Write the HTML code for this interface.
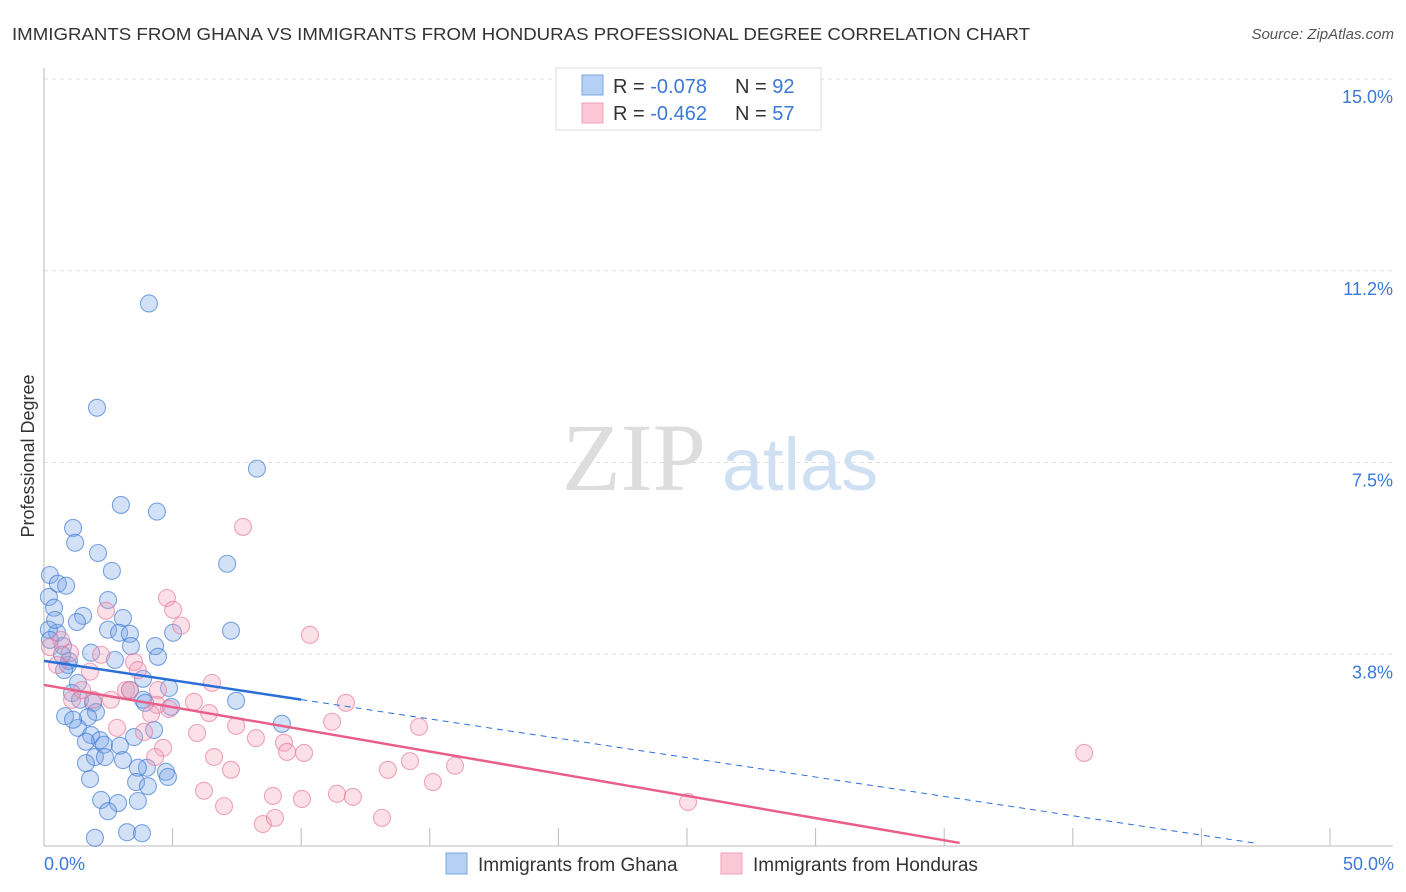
<!DOCTYPE html>
<html><head><meta charset="utf-8"><style>
html,body{margin:0;padding:0;background:#fff;}
svg{display:block;font-family:"Liberation Sans",sans-serif;}
</style></head><body>
<svg id="chart" width="1406" height="892" viewBox="0 0 1406 892">
<text x="12" y="40" font-size="17.5" fill="#333" textLength="1018" lengthAdjust="spacingAndGlyphs">IMMIGRANTS FROM GHANA VS IMMIGRANTS FROM HONDURAS PROFESSIONAL DEGREE CORRELATION CHART</text>
<text x="1394" y="39" font-size="15" fill="#555" font-style="italic" text-anchor="end">Source: ZipAtlas.com</text>
<g id="grid"></g>
<g>
<text x="634" y="490" font-size="96" fill="#ddd" text-anchor="middle" font-family="Liberation Serif,serif">ZIP</text>
<text x="800" y="490" font-size="74" fill="#cfe0f3" text-anchor="middle">atlas</text>
</g>
<g id="axes"></g>
<g id="marks"></g>
<text x="34" y="456" font-size="18" fill="#333" text-anchor="middle" transform="rotate(-90 34 456)">Professional Degree</text>
<g>
<rect x="556" y="68" width="265" height="62" fill="#fff" stroke="#ddd"/>
<rect x="582" y="75" width="21" height="20" fill="#b5d0f5" stroke="#7aa7e0"/>
<rect x="582" y="103" width="21" height="20" fill="#fcc8d7" stroke="#f0a0b8"/>
<text x="613" y="93" font-size="20" fill="#333">R = <tspan fill="#3b78d8">-0.078</tspan></text>
<text x="735" y="93" font-size="20" fill="#333">N = <tspan fill="#3b78d8">92</tspan></text>
<text x="613" y="120" font-size="20" fill="#333">R = <tspan fill="#3b78d8">-0.462</tspan></text>
<text x="735" y="120" font-size="20" fill="#333">N = <tspan fill="#3b78d8">57</tspan></text>
</g>
<g>
<rect x="446" y="853" width="21" height="21" fill="#b5d0f5" stroke="#7aa7e0"/>
<text x="478" y="871" font-size="19" fill="#333">Immigrants from Ghana</text>
<rect x="721" y="853" width="21" height="21" fill="#fcc8d7" stroke="#f0a0b8"/>
<text x="753" y="871" font-size="19" fill="#333">Immigrants from Honduras</text>
</g>
</svg>
<script>
const yTicks = [3.75, 7.5, 11.25, 15];
const yTickLabels = ["3.8%", "7.5%", "11.2%", "15.0%"];
const xTickVals = [5,10,15,20,25,30,35,40,45,50];
const ghanaX = [4.08,2.06,8.28,2.99,4.39,1.13,1.21,2.10,7.12,2.64,0.23,0.54,0.86,0.19,2.49,0.39,1.52,3.07,1.28,7.27,2.49,2.92,3.34,5.02,0.51,0.19,4.32,3.38,0.74,4.43,1.83,2.76,0.93,0.97,0.78,3.85,1.32,4.86,3.34,1.09,3.85,7.47,3.93,1.40,1.91,4.94,2.02,0.82,1.71,9.25,1.32,4.28,1.83,3.50,2.18,1.63,2.33,2.95,1.98,2.37,3.07,1.63,4.00,3.65,4.74,4.82,1.79,3.58,4.04,2.22,2.88,3.65,2.49,1.98,3.23,3.81,0.70,1.13,0.23,0.43];
const ghanaY = [10.61,8.57,7.38,6.67,6.54,6.22,5.93,5.73,5.52,5.38,5.30,5.13,5.09,4.87,4.81,4.66,4.50,4.46,4.38,4.21,4.23,4.17,4.15,4.17,4.17,4.23,3.91,3.91,3.91,3.70,3.78,3.64,3.54,3.62,3.44,3.27,3.19,3.09,3.05,2.99,2.86,2.84,2.80,2.86,2.80,2.72,2.62,2.54,2.52,2.39,2.31,2.27,2.17,2.13,2.07,2.04,1.98,1.96,1.74,1.74,1.68,1.62,1.53,1.53,1.45,1.35,1.31,1.25,1.17,0.90,0.84,0.88,0.68,0.16,0.27,0.25,3.74,2.47,4.03,4.42];
const hondX = [7.74,4.78,5.02,2.41,5.33,10.34,0.66,0.23,1.01,2.22,3.50,3.65,0.51,1.79,6.53,3.19,4.43,1.09,1.91,2.60,5.83,4.39,4.86,11.74,6.42,4.16,7.47,2.84,11.20,14.58,5.95,3.89,8.24,4.63,9.33,4.32,6.61,9.45,10.11,40.44,14.23,15.98,7.27,13.37,15.12,6.22,11.39,12.01,8.90,10.03,7.00,13.14,8.51,8.98,25.04,1.48,3.34];
const hondY = [6.24,4.85,4.62,4.60,4.31,4.13,4.03,3.89,3.78,3.74,3.60,3.44,3.54,3.41,3.19,3.05,3.05,2.86,2.86,2.86,2.82,2.76,2.68,2.80,2.60,2.58,2.35,2.31,2.43,2.33,2.21,2.23,2.11,1.92,2.02,1.74,1.74,1.84,1.82,1.82,1.66,1.57,1.49,1.49,1.25,1.08,1.02,0.96,0.98,0.92,0.78,0.55,0.43,0.55,0.86,3.05,3.05];
const ghanaTrend = [3.62, -0.0757];
const hondTrend = [3.15, -0.0868];

const NS="http://www.w3.org/2000/svg";
const X0=44, X1=1330, Y0=846, Y15=79;
const sx=v=>X0+(X1-X0)*v/50;
const sy=v=>Y0-(Y0-Y15)*v/15;
function mk(tag,attrs,parent){const e=document.createElementNS(NS,tag);for(const k in attrs)e.setAttribute(k,attrs[k]);parent.appendChild(e);return e;}
const grid=document.getElementById('grid'), axes=document.getElementById('axes'), marks=document.getElementById('marks');
yTicks.forEach((t,i)=>{
  const l=mk('line',{x1:X0,x2:1393,y1:sy(t),y2:sy(t),stroke:'#ddd','stroke-dasharray':'4,4'},grid);
  
  
  const tx=mk('text',{x:1393,y:sy(t)+24,'font-size':18,fill:'#3b78d8','text-anchor':'end'},axes);
  tx.textContent=yTickLabels[i];
  
  
});
mk('line',{x1:X0,x2:X0,y1:68,y2:846,stroke:'#bbb'},axes);
mk('line',{x1:X0,x2:1393,y1:846,y2:846,stroke:'#bbb'},axes);
xTickVals.forEach(v=>{
  const l=mk('line',{x1:sx(v),x2:sx(v),y1:828,y2:846,stroke:'#bbb'},axes);
  
  
});
const xl=mk('text',{x:44,y:870,'font-size':18,fill:'#3b78d8'},axes);xl.textContent='0.0%';


const xr=mk('text',{x:1394,y:870,'font-size':18,fill:'#3b78d8','text-anchor':'end'},axes);xr.textContent='50.0%';


function pts(xs,ys,fill,stroke,name){
  xs.forEach((x,i)=>{
    const c=mk('circle',{cx:sx(x),cy:sy(ys[i]),r:8.5,fill:fill,stroke:stroke,'stroke-width':1.1},marks);
    
    
  });
}
pts(ghanaX,ghanaY,'rgba(120,165,230,0.33)','rgba(60,120,210,0.65)','ghana-point');
pts(hondX,hondY,'rgba(245,160,185,0.33)','rgba(230,120,155,0.65)','honduras-point');
const tb=v=>ghanaTrend[0]+ghanaTrend[1]*v, tp=v=>hondTrend[0]+hondTrend[1]*v;
const b1=mk('line',{x1:sx(0),y1:sy(tb(0)),x2:sx(10),y2:sy(tb(10)),stroke:'#2a6fd6','stroke-width':2.5},marks);


const b2=mk('line',{x1:sx(10),y1:sy(tb(10)),x2:sx(47.2),y2:sy(tb(47.2)),stroke:'#2a6fd6','stroke-width':1,'stroke-dasharray':'6,5'},marks);


const p1=mk('line',{x1:sx(0),y1:sy(tp(0)),x2:sx(35.6),y2:sy(tp(35.6)),stroke:'#e8608a','stroke-width':2.5},marks);


</script>
</body></html>
